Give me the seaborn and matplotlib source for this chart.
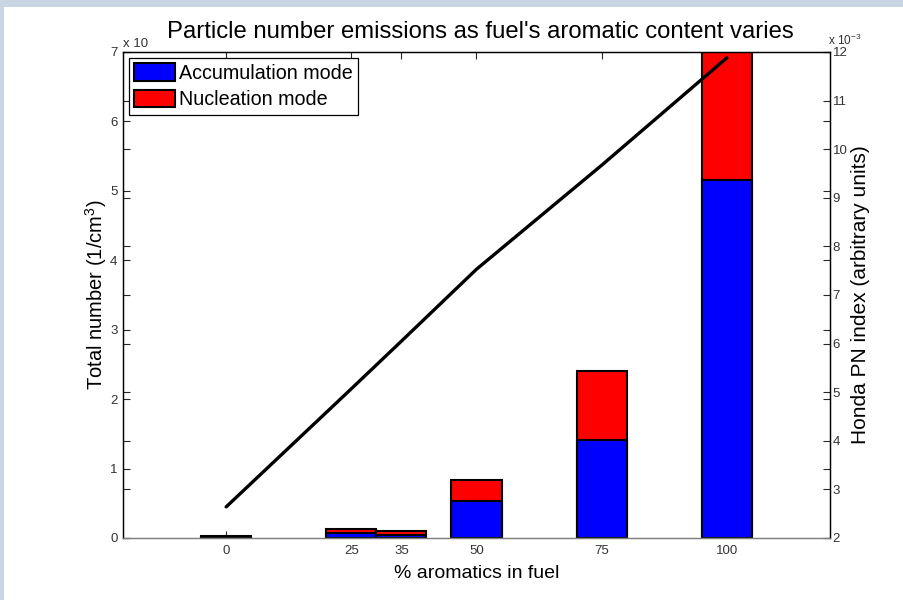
import matplotlib
matplotlib.use("Agg")
import matplotlib.pyplot as plt
from matplotlib.patches import Rectangle, Patch
import pandas as pd
import seaborn as sns

# Fuel aromatic content (%) and measured particle numbers
aromatics = [0, 25, 35, 50, 75, 100]
accumulation = [0.02, 0.07, 0.05, 0.53, 1.41, 5.16]
nucleation = [0.015, 0.06, 0.05, 0.31, 1.00, 1.84]
pn_index = [2.64, 5.07, 6.05, 7.53, 9.67, 11.88]
x_ticks = [0, 25, 35, 50, 75, 100]
left_ticks = [0, 1, 2, 3, 4, 5, 6, 7]
right_ticks = [2, 3, 4, 5, 6, 7, 8, 9, 10, 11, 12]

sns.set_style("ticks")
plt.rcParams["font.family"] = ["Liberation Sans", "DejaVu Sans"]
plt.rcParams["mathtext.default"] = "regular"

df = pd.DataFrame({
    "aromatics": aromatics,
    "accumulation": accumulation,
    "nucleation": nucleation,
    "pn_index": pn_index,
})
df["total"] = df["accumulation"] + df["nucleation"]

W, H = 904, 600
fig = plt.figure(figsize=(W / 100, H / 100), dpi=100)
fig.patch.set_facecolor("white")
frame_col = "#c8d6e4"
fig.patches.append(Rectangle((0, 1 - 7 / H), 1, 7 / H, transform=fig.transFigure,
                             facecolor=frame_col, edgecolor="none"))
fig.patches.append(Rectangle((0, 0), 4 / W, 1, transform=fig.transFigure,
                             facecolor=frame_col, edgecolor="none"))

ax = fig.add_axes([123 / W, 62 / H, 707 / W, 486 / H])

# stacked bars: total (red) underneath, accumulation (blue) over it
sns.barplot(data=df, x="aromatics", y="total", native_scale=True, width=1.0,
            color="#ff0000", saturation=1, edgecolor="black", linewidth=1.5,
            errorbar=None, ax=ax)
sns.barplot(data=df, x="aromatics", y="accumulation", native_scale=True, width=1.0,
            color="#0000ff", saturation=1, edgecolor="black", linewidth=1.5,
            errorbar=None, ax=ax)

ax.set_xlim(-20.6, 120.6)
ax.set_ylim(0, 7)
ax.set_xticks(x_ticks)
ax.set_xticklabels([str(v) for v in x_ticks])
ax.set_yticks(left_ticks)
ax.set_yticklabels([str(v) for v in left_ticks])

ax2 = ax.twinx()
sns.lineplot(data=df, x="aromatics", y="pn_index", color="black", linewidth=2.4, ax=ax2)
ax2.set_ylim(2, 12)
ax2.set_yticks(right_ticks)
ax2.set_yticklabels([str(v) for v in right_ticks])
ax2.set_xlim(-20.6, 120.6)

label_col = "#333333"
ax.tick_params(axis="x", direction="in", length=5, top=True, bottom=True,
               labelsize=9.5, labelcolor=label_col, pad=5, width=0.8)
ax.tick_params(axis="y", direction="in", length=5, left=True, right=True,
               labelsize=9.5, labelcolor=label_col, pad=4, width=0.8)
ax2.tick_params(axis="y", direction="in", length=5, left=True, right=True,
                labelleft=False, labelright=True, labelsize=9.5,
                labelcolor=label_col, pad=2, width=0.8)

for a in (ax, ax2):
    for s in a.spines.values():
        s.set_visible(True)
        s.set_color("black")
        s.set_linewidth(0.9)
    a.spines["bottom"].set_color("#808080")

ax.set_xlabel("% aromatics in fuel", fontsize=14, color="black")
ax.set_ylabel("Total number (1/cm$^3$)", fontsize=14.5, color="black")
ax2.set_ylabel("Honda PN index (arbitrary units)", fontsize=15, color="black")
ax.xaxis.set_label_coords(0.5, -0.056)
ax.yaxis.set_label_coords(-0.02, 0.5)
ax2.yaxis.set_label_coords(1.029, 0.5)

ax.text(0.0, 1.004, "x 10", transform=ax.transAxes, fontsize=9.5,
        color=label_col, ha="left", va="bottom")
ax2.text(0.9975, 1.008, "x 10$^{-3}$", transform=ax2.transAxes, fontsize=8.5,
         color=label_col, ha="left", va="bottom")

ax.set_title("Particle number emissions as fuel's aromatic content varies",
             fontsize=17.2, pad=10, x=0.506, color="black")

handles = [Patch(facecolor="#0000ff", edgecolor="black", linewidth=1.5),
           Patch(facecolor="#ff0000", edgecolor="black", linewidth=1.5)]
leg = ax2.legend(handles, ["Accumulation mode", "Nucleation mode"], loc="upper left",
                 prop={"size": 14.2}, frameon=True, fancybox=False, framealpha=1,
                 borderaxespad=0.28, handlelength=2.05, handleheight=1.0,
                 handletextpad=0.2, labelspacing=0.33, borderpad=0.3)
leg.get_frame().set_edgecolor("black")
leg.get_frame().set_linewidth(0.9)
for t in leg.get_texts():
    t.set_color("black")

fig.savefig("out.png", dpi=100)
